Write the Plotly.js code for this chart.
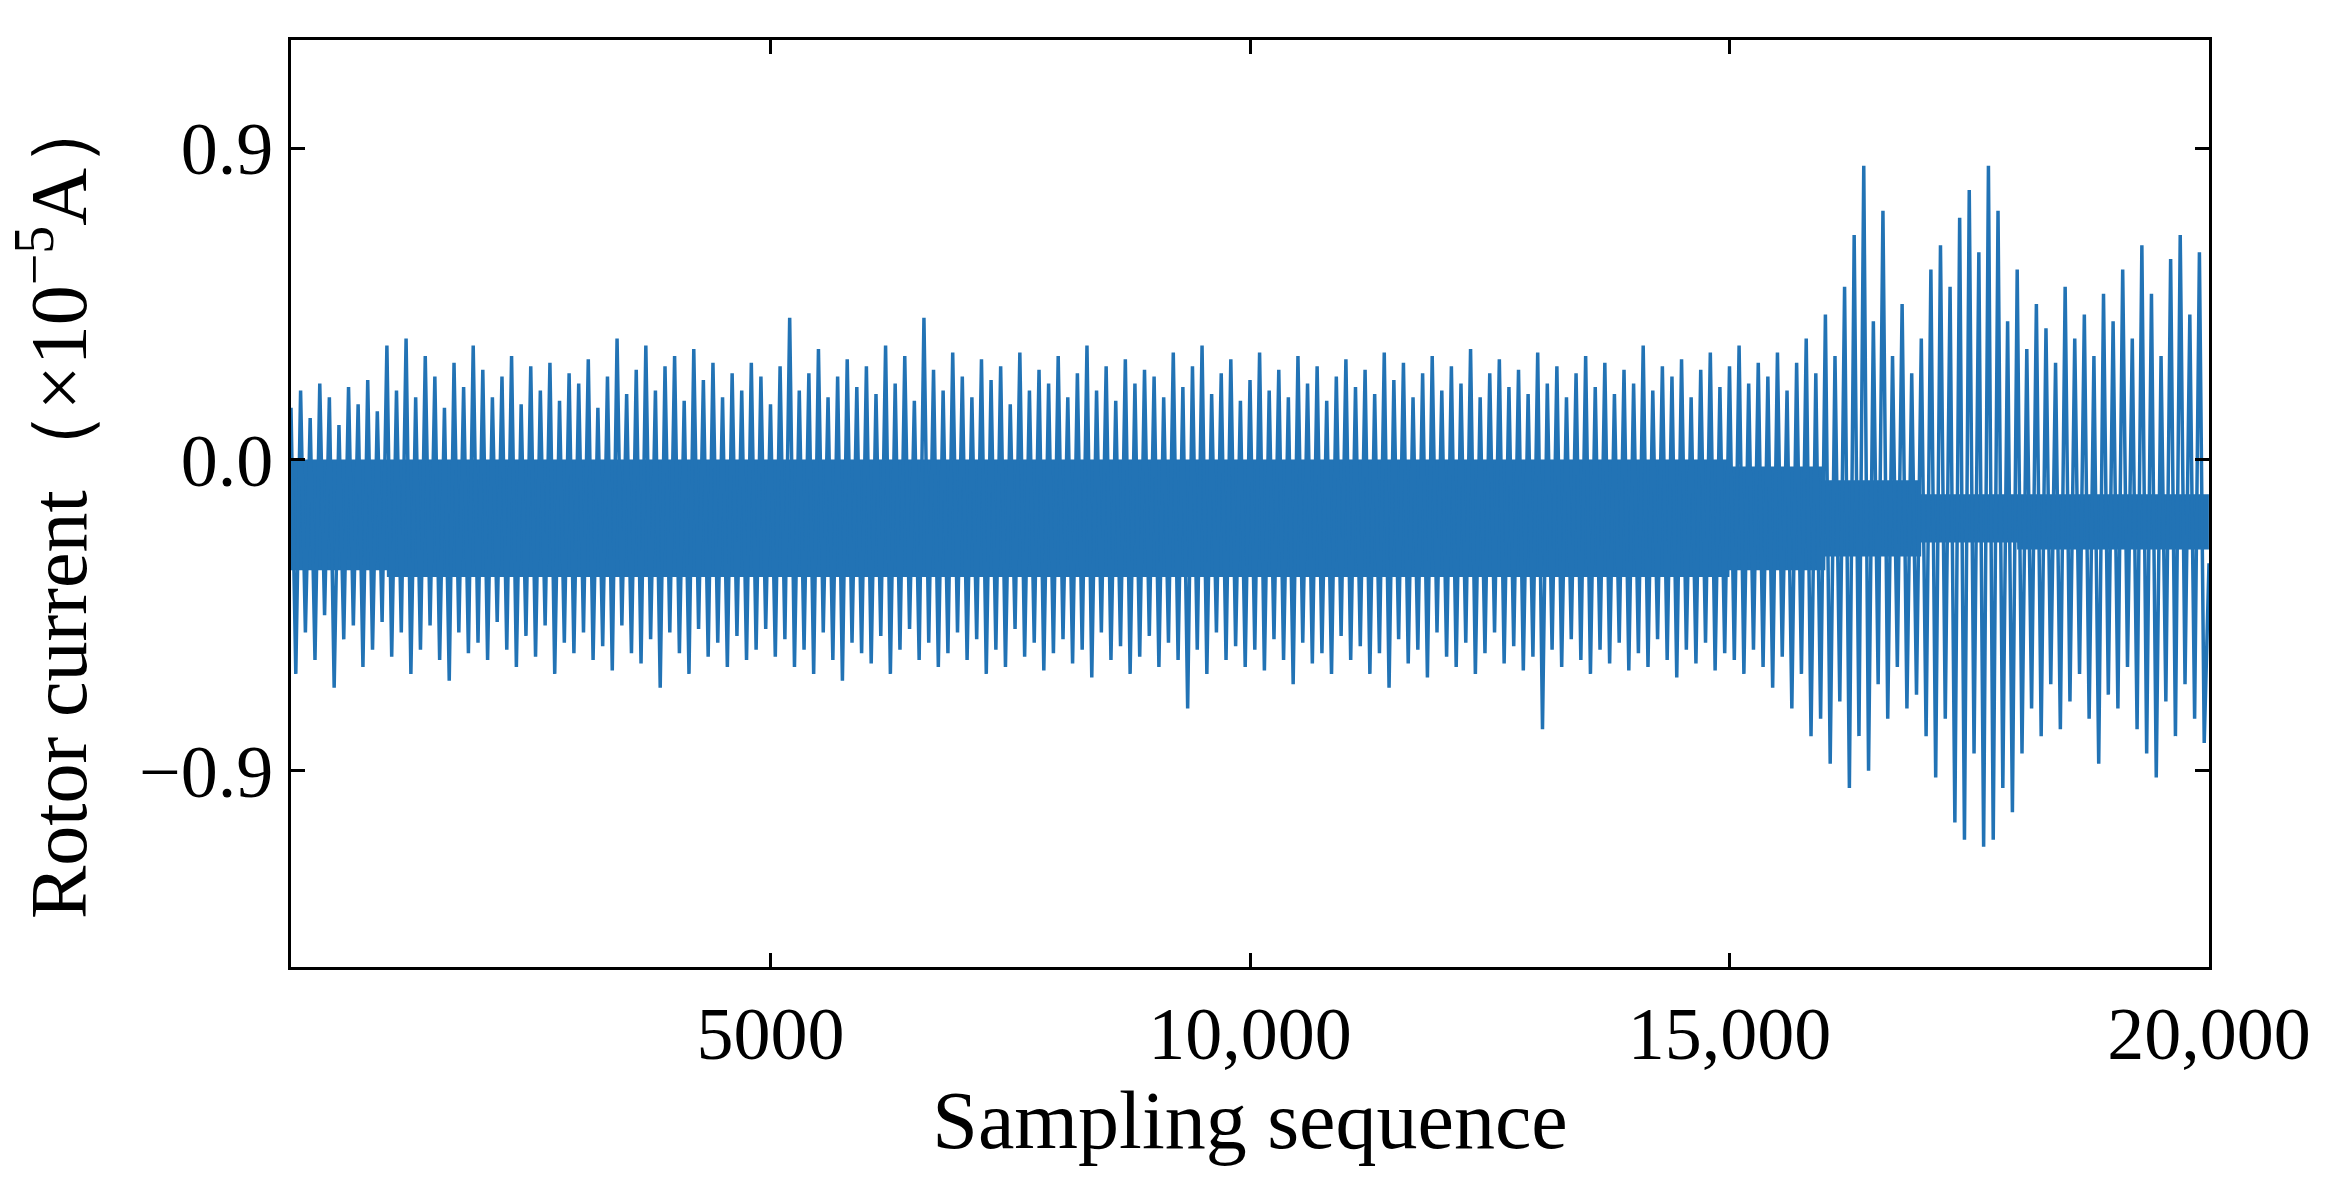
<!DOCTYPE html>
<html>
<head>
<meta charset="utf-8">
<script src="https://cdn.plot.ly/plotly-3.0.1.min.js"></script>
<style>html,body{margin:0;padding:0;background:#fff}#chart{width:2339px;height:1196px}</style>
</head>
<body>
<div id="chart"></div>
<script>
// upper peaks, one per 100 samples
var peakHi = [
  0.15,0.20,0.12,0.22,0.18,0.10,0.21,0.16,0.23,0.14,
  0.33,0.20,0.35,0.18,0.30,0.24,0.15,0.28,0.21,0.33,
  0.26,0.18,0.24,0.30,0.16,0.27,0.20,0.28,0.17,0.25,
  0.22,0.29,0.15,0.24,0.35,0.19,0.26,0.33,0.20,0.27,
  0.30,0.17,0.32,0.23,0.28,0.18,0.25,0.20,0.28,0.24,
  0.16,0.27,0.41,0.20,0.25,0.32,0.18,0.24,0.29,0.21,
  0.27,0.19,0.33,0.22,0.30,0.17,0.41,0.26,0.20,0.31,
  0.24,0.18,0.29,0.23,0.27,0.16,0.31,0.20,0.26,0.22,
  0.30,0.18,0.25,0.33,0.20,0.27,0.17,0.29,0.22,0.26,
  0.24,0.18,0.31,0.21,0.27,0.33,0.19,0.25,0.29,0.17,
  0.23,0.31,0.20,0.26,0.18,0.30,0.22,0.27,0.17,0.24,
  0.29,0.21,0.26,0.19,0.31,0.23,0.28,0.18,0.25,0.30,
  0.20,0.27,0.22,0.32,0.18,0.25,0.29,0.21,0.26,0.19,
  0.31,0.22,0.27,0.18,0.25,0.30,0.21,0.28,0.19,0.26,
  0.22,0.33,0.20,0.27,0.24,0.29,0.18,0.26,0.31,0.21,
  0.27,0.33,0.22,0.28,0.24,0.31,0.20,0.28,0.35,0.25,
  0.42,0.30,0.50,0.65,0.85,0.40,0.72,0.30,0.45,0.25,
  0.35,0.55,0.62,0.50,0.70,0.78,0.60,0.85,0.72,0.40,
  0.55,0.32,0.45,0.38,0.28,0.50,0.35,0.42,0.30,0.48,
  0.40,0.55,0.35,0.62,0.48,0.30,0.58,0.65,0.42,0.60
];
// lower troughs, one per 100 samples
var peakLo = [
  -0.62,-0.50,-0.58,-0.45,-0.66,-0.52,-0.48,-0.60,-0.55,-0.47,
  -0.57,-0.50,-0.62,-0.55,-0.48,-0.58,-0.64,-0.50,-0.56,-0.53,
  -0.58,-0.47,-0.55,-0.60,-0.51,-0.57,-0.48,-0.62,-0.53,-0.56,
  -0.50,-0.58,-0.54,-0.61,-0.48,-0.56,-0.59,-0.52,-0.66,-0.50,
  -0.56,-0.62,-0.49,-0.57,-0.53,-0.60,-0.51,-0.58,-0.55,-0.49,
  -0.57,-0.52,-0.60,-0.55,-0.62,-0.50,-0.58,-0.64,-0.53,-0.56,
  -0.59,-0.51,-0.62,-0.55,-0.49,-0.58,-0.53,-0.60,-0.56,-0.50,
  -0.58,-0.52,-0.62,-0.55,-0.60,-0.49,-0.57,-0.53,-0.61,-0.56,
  -0.52,-0.59,-0.55,-0.63,-0.50,-0.58,-0.54,-0.62,-0.57,-0.51,
  -0.60,-0.53,-0.58,-0.72,-0.55,-0.62,-0.50,-0.58,-0.54,-0.60,
  -0.55,-0.61,-0.52,-0.58,-0.65,-0.53,-0.59,-0.56,-0.62,-0.51,
  -0.58,-0.54,-0.62,-0.56,-0.66,-0.52,-0.59,-0.55,-0.63,-0.50,
  -0.57,-0.60,-0.53,-0.62,-0.56,-0.50,-0.59,-0.54,-0.61,-0.57,
  -0.78,-0.55,-0.60,-0.52,-0.58,-0.62,-0.55,-0.59,-0.53,-0.61,
  -0.56,-0.60,-0.52,-0.58,-0.63,-0.55,-0.59,-0.53,-0.61,-0.56,
  -0.58,-0.62,-0.55,-0.60,-0.66,-0.57,-0.72,-0.62,-0.80,-0.75,
  -0.88,-0.70,-0.95,-0.80,-0.90,-0.65,-0.75,-0.60,-0.72,-0.68,
  -0.80,-0.92,-0.75,-1.05,-1.10,-0.85,-1.12,-1.10,-0.95,-1.02,
  -0.85,-0.72,-0.80,-0.65,-0.78,-0.70,-0.62,-0.75,-0.88,-0.68,
  -0.72,-0.60,-0.78,-0.85,-0.92,-0.70,-0.80,-0.65,-0.75,-0.82
];
// dense core band, one value per 1000 samples
var coreHi = [0.0,0.0,0.0,0.0,0.0,0.0,0.0,0.0,0.0,0.0,0.0,0.0,0.0,0.0,0.0,-0.02,-0.06,-0.10,-0.10,-0.10];
var coreLo = [-0.32,-0.34,-0.34,-0.34,-0.34,-0.34,-0.34,-0.34,-0.34,-0.34,-0.34,-0.34,-0.34,-0.34,-0.34,-0.32,-0.28,-0.24,-0.26,-0.26];
var xTicks = [5000, 10000, 15000, 20000];
var xTickText = ['5000', '10,000', '15,000', '20,000'];
var yTicks = [-0.9, 0, 0.9];
var yTickText = ['\u22120.9', '0.0', '0.9'];

var BLUE = '#2273b5';
var sx = [], sy = [];
peakHi.forEach(function (v, i) {
  sx.push(i * 100); sy.push(v);
  sx.push(i * 100 + 50); sy.push(peakLo[i]);
});
sx.push(20000); sy.push(-0.3);
var cx = [], cHi = [], cLo = [];
coreHi.forEach(function (v, i) {
  cx.push(i * 1000); cHi.push(v); cLo.push(coreLo[i]);
  cx.push(i * 1000 + 999); cHi.push(v); cLo.push(coreLo[i]);
});

var font = { family: 'Liberation Serif, Times New Roman, serif', color: '#000' };
var axisBase = {
  showline: true, linecolor: '#000', linewidth: 3, mirror: 'ticks',
  ticks: 'inside', ticklen: 14, tickwidth: 3, tickcolor: '#000',
  showgrid: false, zeroline: false, tickfont: Object.assign({ size: 74 }, font)
};

Plotly.newPlot('chart', [
  { x: cx, y: cLo, mode: 'lines', line: { color: BLUE, width: 0 }, hoverinfo: 'skip' },
  { x: cx, y: cHi, mode: 'lines', fill: 'tonexty', fillcolor: BLUE, line: { color: BLUE, width: 0 }, hoverinfo: 'skip' },
  { x: sx, y: sy, mode: 'lines', line: { color: BLUE, width: 3.5 } }
], {
  width: 2339, height: 1196,
  paper_bgcolor: '#fff', plot_bgcolor: '#fff',
  showlegend: false,
  margin: { l: 291, r: 130, t: 40, b: 229 },
  xaxis: Object.assign({}, axisBase, {
    range: [0, 20000], tickvals: xTicks, ticktext: xTickText,
    title: { text: 'Sampling sequence', font: Object.assign({ size: 82 }, font), standoff: 14 }
  }),
  yaxis: Object.assign({}, axisBase, {
    range: [-1.468, 1.214], tickvals: yTicks, ticktext: yTickText,
    title: { text: 'Rotor current\uff08\u00d710<sup>\u22125</sup>A\uff09', font: Object.assign({ size: 80 }, font), standoff: 26 }
  })
}, { displayModeBar: false, staticPlot: true });
</script>
</body>
</html>
